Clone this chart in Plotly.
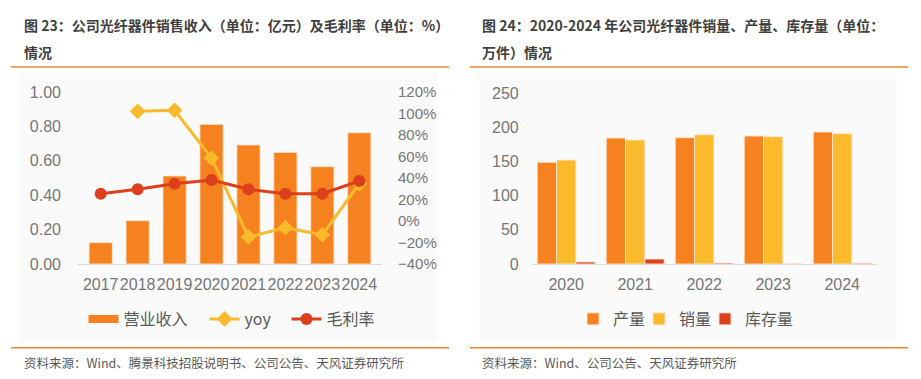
import plotly.graph_objects as go

W, H = 921, 379

# ---- Left chart data ----
years_l = ["2017", "2018", "2019", "2020", "2021", "2022", "2023", "2024"]
revenue = [0.124, 0.252, 0.512, 0.812, 0.692, 0.649, 0.566, 0.763]
yoy = [None, 102.0, 103.0, 58.5, -14.8, -6.2, -12.8, 34.8]
gross_margin = [25.4, 29.5, 34.7, 38.2, 29.5, 25.4, 25.4, 37.2]

# ---- Right chart data ----
years_r = ["2020", "2021", "2022", "2023", "2024"]
production = [148.7, 184.2, 184.7, 187.1, 193.0]
sales = [152.0, 181.3, 189.0, 186.2, 190.5]
inventory = [3.0, 7.3, 1.5, 0.5, 1.2]

ORANGE = "#F5821F"
YELLOW = "#FBBA2B"
RED = "#DC3F1C"
TICK = "#767676"
FONT = "Liberation Sans, Arial, Noto Sans CJK SC, sans-serif"
CJK = "Noto Sans CJK SC, Liberation Sans, sans-serif"

def px_x(p):
    return p / W

def px_y(p):
    return 1 - p / H

fig = go.Figure()

# revenue bars (legend shown by a wide-strip proxy entry, as in the original)
fig.add_trace(go.Bar(
    x=years_l, y=revenue, name="营业收入", showlegend=False,
    marker=dict(color=ORANGE, line=dict(color="rgba(255,230,210,0.9)", width=1)),
    width=0.63, xaxis="x", yaxis="y"))
fig.add_trace(go.Scatter(
    x=[None], y=[None], name="营业收入", mode="lines", line=dict(color=ORANGE, width=8),
    xaxis="x", yaxis="y", legend="legend"))
fig.add_trace(go.Scatter(
    x=years_l, y=yoy, name="yoy", mode="lines+markers",
    line=dict(color=YELLOW, width=3), marker=dict(symbol="diamond", size=12, color=YELLOW),
    xaxis="x", yaxis="y2", legend="legend3"))
fig.add_trace(go.Scatter(
    x=years_l, y=gross_margin, name="毛利率", mode="lines+markers",
    line=dict(color=RED, width=3), marker=dict(symbol="circle", size=12, color=RED),
    xaxis="x", yaxis="y2", legend="legend4"))

for name, vals, col, lg in [("产量", production, ORANGE, "legend2"),
                            ("销量", sales, YELLOW, "legend5"),
                            ("库存量", inventory, RED, "legend6")]:
    fig.add_trace(go.Bar(
        x=years_r, y=vals, name=name,
        marker=dict(color=col, line=dict(color="rgba(255,230,210,0.9)", width=1)),
        xaxis="x2", yaxis="y3", legend=lg))

ydom = [px_y(264), px_y(92)]
ydom_r = [px_y(264), px_y(93)]

def leg(center_px, off):
    return dict(orientation="h", x=px_x(center_px - off), xanchor="left", y=px_y(319), yanchor="middle",
                font=dict(size=16, color="#595959", family=CJK), bgcolor="rgba(0,0,0,0)")

fig.update_layout(
    width=W, height=H, autosize=False,
    margin=dict(l=0, r=0, t=0, b=0),
    paper_bgcolor="white", plot_bgcolor="rgba(0,0,0,0)",
    barmode="group", bargap=0.16, bargroupgap=0,
    font=dict(family=FONT, color=TICK),
    xaxis=dict(domain=[px_x(78), px_x(382)], anchor="y", type="category", automargin=False,
               showline=True, linecolor="#d9d9d9", linewidth=1, ticks="", tickangle=0,
               tickfont=dict(size=16, color=TICK, family=FONT), ticklabelstandoff=6,
               showgrid=False),
    yaxis=dict(domain=ydom, anchor="x", range=[0, 1], dtick=0.2, tickformat=".2f", automargin=False,
               showgrid=False, zeroline=False, showline=False, ticks="",
               tickfont=dict(size=16, color=TICK, family=FONT), ticklabelstandoff=16),
    yaxis2=dict(overlaying="y", side="right", anchor="x", range=[-40, 120], dtick=20, automargin=False,
                ticksuffix="%", showgrid=False, zeroline=False, showline=False, ticks="",
                tickfont=dict(size=15, color=TICK, family=FONT), ticklabelstandoff=15),
    xaxis2=dict(domain=[px_x(531.7), px_x(876.7)], anchor="y3", type="category", automargin=False,
                showline=True, linecolor="#d9d9d9", linewidth=1, ticks="", tickangle=0,
                tickfont=dict(size=16, color=TICK, family=FONT), ticklabelstandoff=6,
                showgrid=False),
    yaxis3=dict(domain=ydom_r, anchor="x2", range=[0, 250], dtick=50, automargin=False,
                showgrid=False, zeroline=False, showline=False, ticks="",
                tickfont=dict(size=16, color=TICK, family=FONT), ticklabelstandoff=12),
    legend=leg(105.5, 22),
    legend3=leg(226.5, 22),
    legend4=leg(308.5, 22),
    legend2=leg(593, 20),
    legend5=leg(659, 20),
    legend6=leg(725, 20),
)

shapes = []
# light grey chart panels
shapes.append(dict(type="rect", xref="paper", yref="paper", x0=px_x(20), x1=px_x(438),
                   y0=px_y(342), y1=px_y(73), fillcolor="#fafafa", line=dict(width=0), layer="below"))
shapes.append(dict(type="rect", xref="paper", yref="paper", x0=px_x(479), x1=px_x(897),
                   y0=px_y(342), y1=px_y(73), fillcolor="#fafafa", line=dict(width=0), layer="below"))
# orange separator lines
for x0, x1 in [(11, 449), (470, 908)]:
    for yy in [67, 347.7]:
        shapes.append(dict(type="line", xref="paper", yref="paper", x0=px_x(x0), x1=px_x(x1),
                           y0=px_y(yy), y1=px_y(yy), line=dict(color="#EE8630", width=1.5)))
fig.update_layout(shapes=shapes)

TITLE_C = "#404040"
ann = [
    dict(text="<b>图 23：公司光纤器件销售收入（单位：亿元）及毛利率（单位：%）</b>", x=px_x(22), y=px_y(25)),
    dict(text="<b>情况</b>", x=px_x(22), y=px_y(52)),
    dict(text="<b>图 24：2020-2024 年公司光纤器件销量、产量、库存量（单位：</b>", x=px_x(480), y=px_y(25)),
    dict(text="<b>万件）情况</b>", x=px_x(480), y=px_y(52)),
]
for a in ann:
    fig.add_annotation(xref="paper", yref="paper", xanchor="left", yanchor="middle", showarrow=False,
                       font=dict(size=14, color=TITLE_C, family=CJK), **a)
for txt, x in [("资料来源：Wind、腾景科技招股说明书、公司公告、天风证券研究所", 22),
               ("资料来源：Wind、公司公告、天风证券研究所", 480)]:
    fig.add_annotation(xref="paper", yref="paper", xanchor="left", yanchor="middle", showarrow=False,
                       text=txt, x=px_x(x), y=px_y(362),
                       font=dict(size=12.5, color="#595959", family=CJK))

fig.write_html("out.html", config={"displayModeBar": False},
               post_script="document.body.style.margin='0';document.body.style.overflow='hidden';")
